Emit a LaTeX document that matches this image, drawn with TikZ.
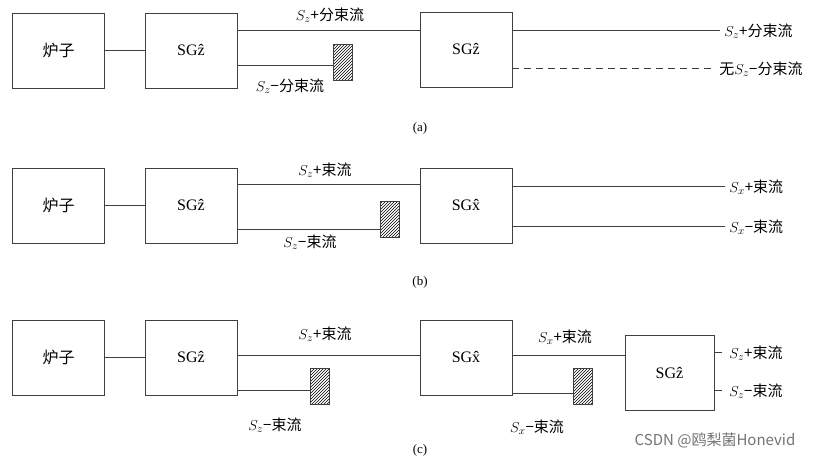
\documentclass[tikz,border=0pt]{standalone}
\usepackage{fontspec}
\setmainfont{Liberation Serif}
\newfontfamily\cjk{Noto Sans CJK SC}
\usetikzlibrary{patterns}
\newcommand{\Sz}{$S_z$}
\newcommand{\Sx}{$S_x$}
\begin{document}
\begin{tikzpicture}[x=1pt,y=-1pt,line width=0.9pt,draw=black!75,
  box/.style={draw,thick,minimum width=92pt,minimum height=75pt,font=\fontsize{16}{16}\selectfont},
  blk/.style={draw,pattern=north east lines,minimum width=19pt,minimum height=36pt,inner sep=0pt},
  lbl/.style={font=\fontsize{15}{15}\selectfont,inner sep=1pt},
  captext/.style={font=\fontsize{13}{13}\selectfont}]
\useasboundingbox (0,0) rectangle (840,461);
% row a
\node[box] (a0) at (58.5,50.5) {\cjk 炉子};
\node[box] (a1) at (191,50.5) {SG\^z};
\node[box] (a2) at (466,49.5) {SG\^z};
\node[blk] (ah) at (342.5,62) {};
\draw (a0.east) -- (a1.west);
\coordinate (a1t) at (237,30); \coordinate (a1b) at (237,65);
\draw (a1t) -- (a1t -| a2.west);
\draw (a1b) -- (a1b -| ah.west);
\node[lbl] (at1) at (330,15) {\Sz{\cjk +分束流}};
\node[lbl] (at2) at (290,86) {\Sz{\cjk −分束流}};
\coordinate (ar1) at (720,30); \coordinate (ar2) at (715,68);
\draw (ar1 -| a2.east) -- (ar1);
\draw[dash pattern=on 7pt off 5pt] (ar2 -| a2.east) -- (ar2);
\node[lbl,anchor=west] (at3) at (723,31) {\Sz{\cjk +分束流}};
\node[lbl,anchor=west] (at4) at (718,69) {{\cjk 无}\Sz{\cjk −分束流}};
\node[captext] (ca) at (420,128) {(a)};
% row b
\node[box] (b0) at (58.5,205.5) {\cjk 炉子};
\node[box] (b1) at (191,205.5) {SG\^z};
\node[box] (b2) at (466,205.5) {SG\^x};
\node[blk] (bh) at (390,219.5) {};
\draw (b0.east) -- (b1.west);
\coordinate (b1t) at (237,184); \coordinate (b1b) at (237,229);
\draw (b1t) -- (b1t -| b2.west);
\draw (b1b) -- (b1b -| bh.west);
\node[lbl] at (325,170) {\Sz{\cjk +束流}};
\node[lbl] at (310,242) {\Sz{\cjk −束流}};
\coordinate (br1) at (725,186); \coordinate (br2) at (725,226);
\draw (br1 -| b2.east) -- (br1);
\draw (br2 -| b2.east) -- (br2);
\node[lbl,anchor=west] at (728,187) {\Sx{\cjk +束流}};
\node[lbl,anchor=west] at (728,227) {\Sx{\cjk −束流}};
\node[captext] at (420,282) {(b)};
% row c
\node[box] (c0) at (58.5,357.5) {\cjk 炉子};
\node[box] (c1) at (191,357.5) {SG\^z};
\node[box] (c2) at (466,357.5) {SG\^x};
\node[box,minimum width=89pt] (c3) at (669.5,373) {SG\^z};
\node[blk] (ch1) at (320,386.5) {};
\node[blk] (ch2) at (583,386.5) {};
\draw (c0.east) -- (c1.west);
\coordinate (c1t) at (237,355); \coordinate (c1b) at (237,390);
\draw (c1t) -- (c1t -| c2.west);
\draw (c1b) -- (c1b -| ch1.west);
\coordinate (c2t) at (512,355); \coordinate (c2b) at (512,393);
\draw (c2t) -- (c2t -| c3.west);
\draw (c2b) -- (c2b -| ch2.west);
\node[lbl] at (325,334) {\Sz{\cjk +束流}};
\node[lbl] at (275,425) {\Sz{\cjk −束流}};
\node[lbl] at (565,337) {\Sx{\cjk +束流}};
\node[lbl] at (537,427) {\Sx{\cjk −束流}};
\coordinate (cr1) at (722,352); \coordinate (cr2) at (722,390);
\draw (cr1 -| c3.east) -- (cr1);
\draw (cr2 -| c3.east) -- (cr2);
\node[lbl,anchor=west] at (728,353) {\Sz{\cjk +束流}};
\node[lbl,anchor=west] at (728,391) {\Sz{\cjk −束流}};
\node[captext] at (420,450) {(c)};
\node[font=\fontsize{15}{15}\selectfont\cjk,text=black!55] at (715,440) {CSDN @鸥梨菌Honevid};
\end{tikzpicture}
\end{document}
